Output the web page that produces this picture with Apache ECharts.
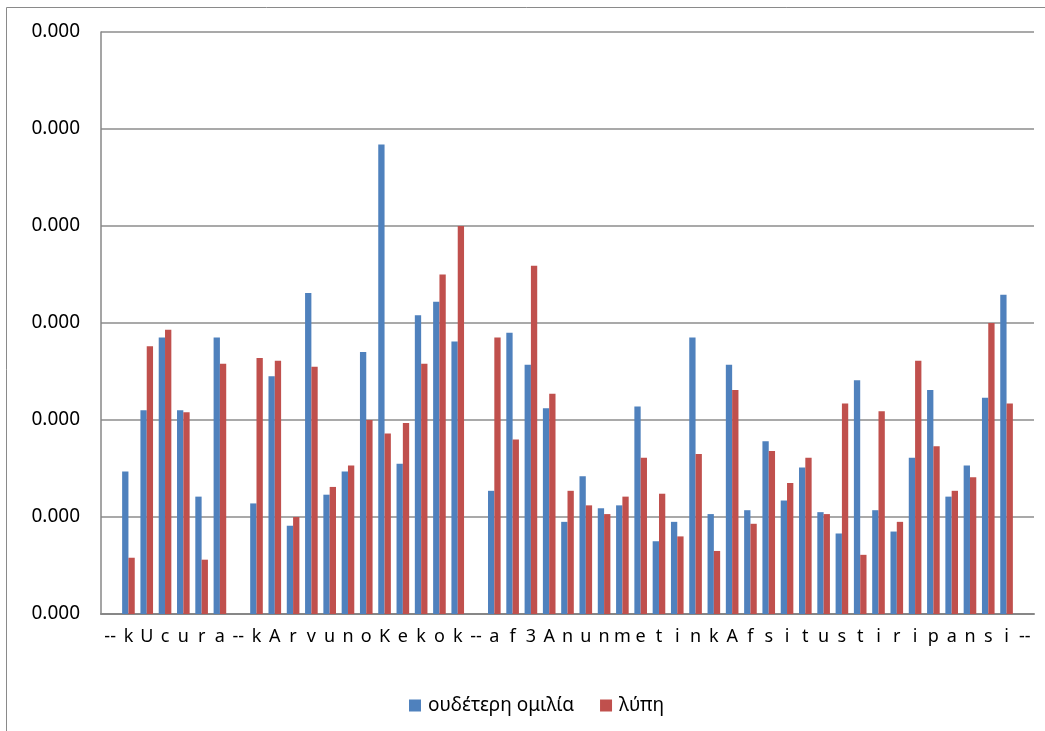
<!DOCTYPE html>
<html>
<head>
<meta charset="utf-8">
<script src="https://cdn.jsdelivr.net/npm/echarts@6/dist/echarts.min.js"></script>
<style>
  html, body { margin: 0; padding: 0; background: #fff; }
  #chart { width: 1045px; height: 731px; }
</style>
</head>
<body>
<div id="chart"></div>
<script>
// categories (phoneme labels), '--' marks the gaps between words
var categories = ['--','k','U','c','u','r','a','--','k','A','r','v','u','n','o','K','e','k','o','k','--',
  'a','f','3','A','n','u','n','m','e','t','i','n','k','A','f','s','i','t','u','s','t','i','r','i','p','a','n','s','i','--'];

// values in gridline steps (each step shows as 0.000 on the axis)
var neutral = ['-',1.47,2.10,2.85,2.10,1.21,2.85,'-',1.14,2.45,0.91,3.31,1.23,1.47,2.70,4.84,1.55,3.08,3.22,2.81,'-',
  1.27,2.90,2.57,2.12,0.95,1.42,1.09,1.12,2.14,0.75,0.95,2.85,1.03,2.57,1.07,1.78,1.17,1.51,1.05,0.83,2.41,1.07,0.85,1.61,2.31,1.21,1.53,2.23,3.29,'-'];
var sadness = ['-',0.58,2.76,2.93,2.08,0.56,2.58,'-',2.64,2.61,1.0,2.55,1.31,1.53,2.0,1.86,1.97,2.58,3.5,4.0,'-',
  2.85,1.80,3.59,2.27,1.27,1.12,1.03,1.21,1.61,1.24,0.80,1.65,0.65,2.31,0.93,1.68,1.35,1.61,1.03,2.17,0.61,2.09,0.95,2.61,1.73,1.27,1.41,3.0,2.17,'-'];

var seriesNames = ['ουδέτερη ομιλία', 'λύπη'];
var unit = 0.00005;

var myChart = echarts.init(document.getElementById('chart'));

var option = {
  animation: false,
  textStyle: { fontFamily: 'Noto Sans' },
  graphic: [{
    type: 'rect',
    shape: { x: 6.5, y: 7.5, width: 1200, height: 900 },
    style: { fill: 'none', stroke: '#8a8a8a', lineWidth: 1 },
    silent: true
  }],
  grid: { left: 101, right: 11, top: 32, bottom: 117 },
  legend: {
    bottom: 11,
    left: 404,
    itemWidth: 12,
    itemHeight: 12,
    itemGap: 26,
    icon: 'rect',
    textStyle: { fontSize: 19, color: '#000', fontFamily: 'Noto Sans', padding: [0, 0, 0, 2] },
    data: seriesNames
  },
  xAxis: {
    type: 'category',
    data: categories,
    axisLine: { lineStyle: { color: '#878787', width: 2 } },
    axisTick: { show: false },
    axisLabel: { interval: 0, fontSize: 18, color: '#000', margin: 14 }
  },
  yAxis: {
    type: 'value',
    min: 0,
    max: 6,
    interval: 1,
    axisLine: { show: true, lineStyle: { color: '#878787', width: 1.5 } },
    axisTick: { show: false },
    splitLine: { lineStyle: { color: '#8c8c8c', width: 1.5 } },
    axisLabel: {
      fontSize: 19, color: '#000', margin: 21,
      formatter: function (v) { return (v * unit).toFixed(3); }
    }
  },
  series: [
    {
      name: seriesNames[0],
      type: 'bar',
      data: neutral,
      barGap: '0%',
      barCategoryGap: '31%',
      itemStyle: { color: '#4f81bd' }
    },
    {
      name: seriesNames[1],
      type: 'bar',
      data: sadness,
      itemStyle: { color: '#c0504d' }
    }
  ]
};

myChart.setOption(option);
</script>
</body>
</html>
